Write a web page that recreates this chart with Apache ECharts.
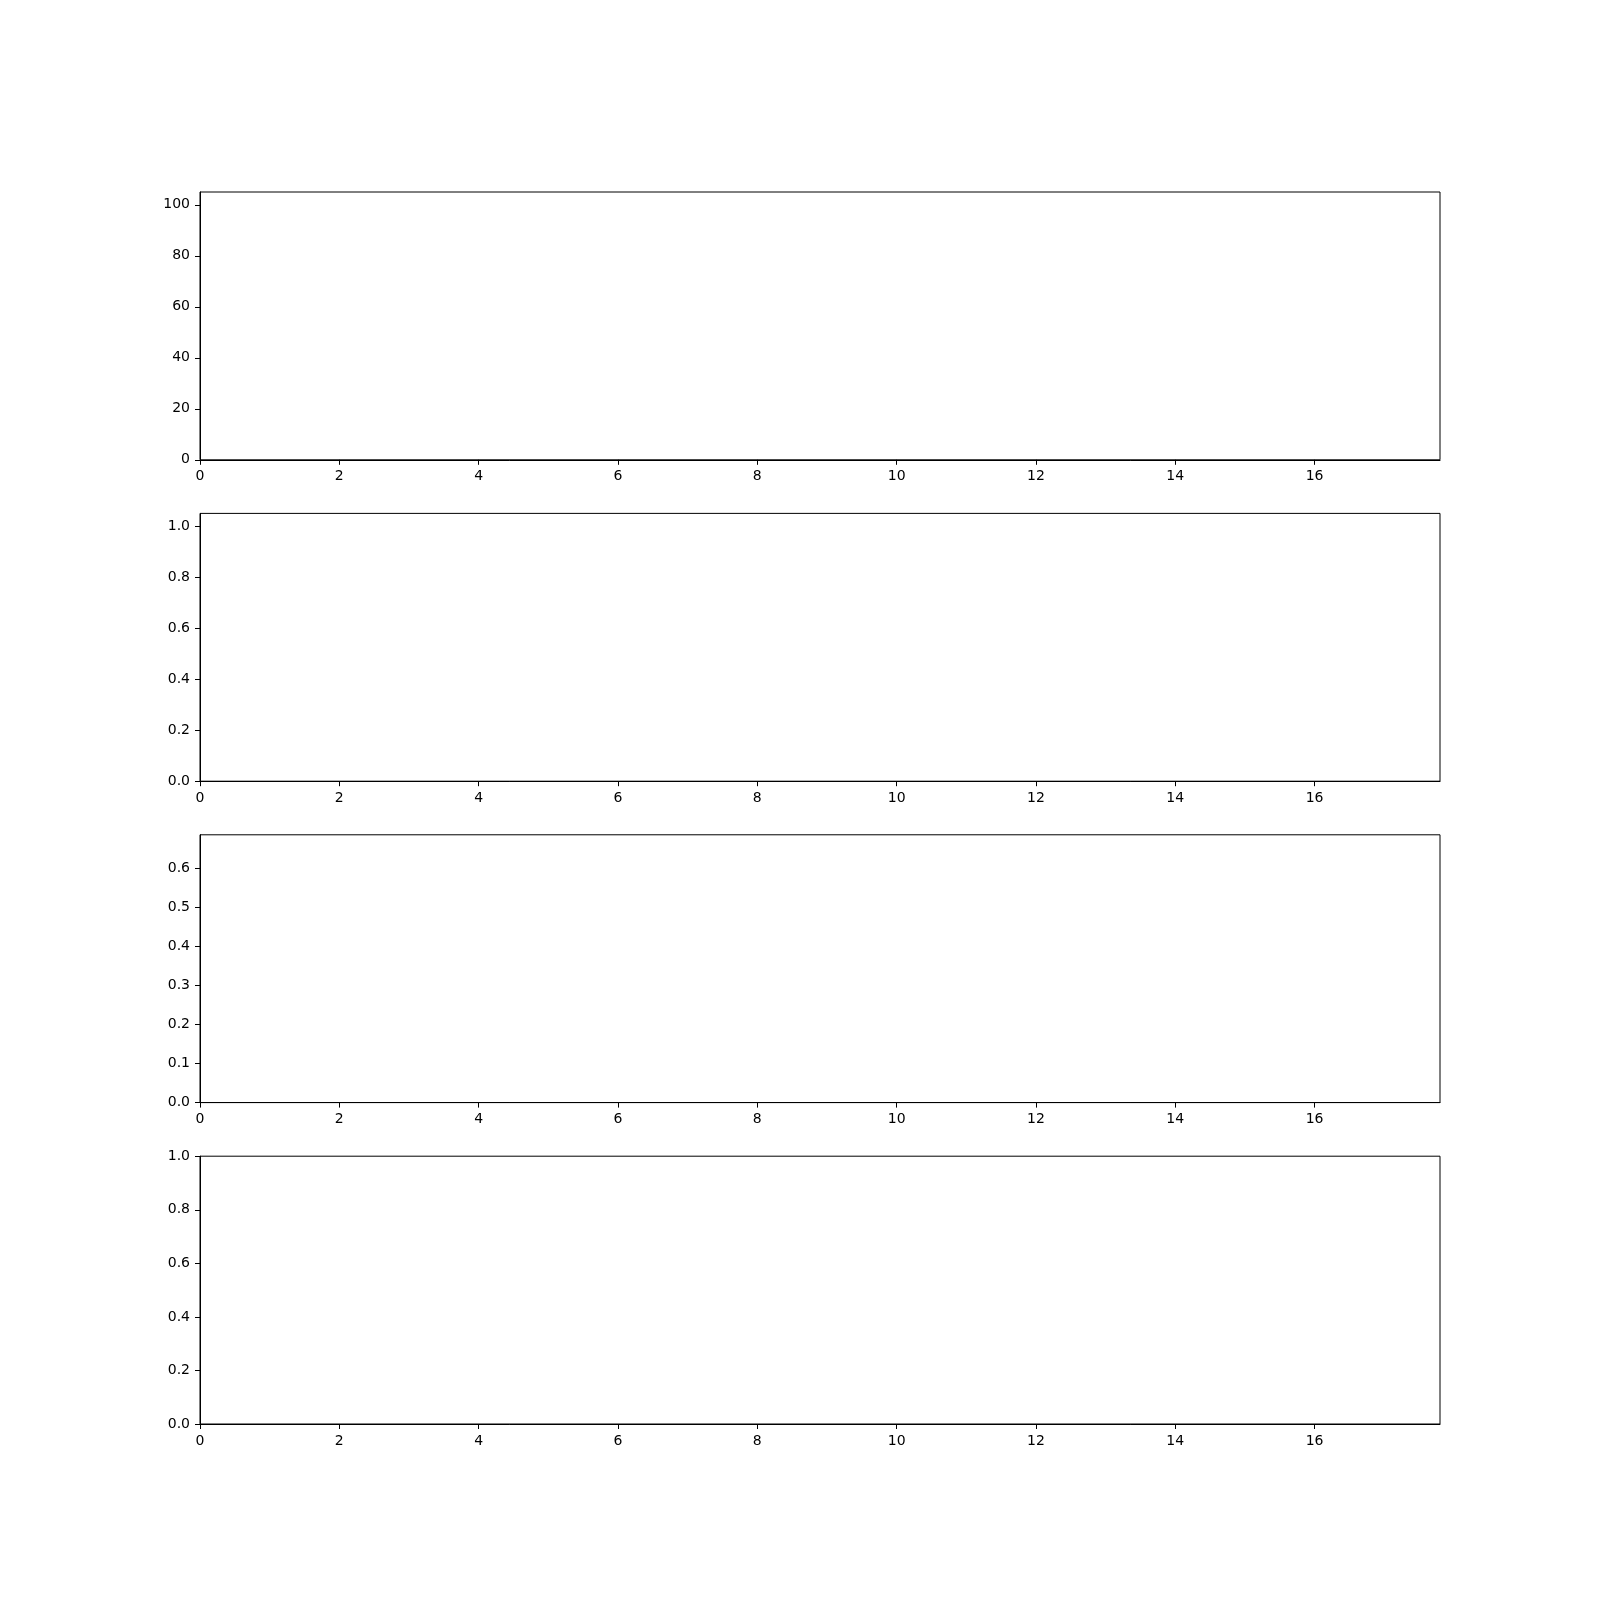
<!DOCTYPE html>
<html>
<head>
<meta charset="utf-8">
<script src="https://cdn.jsdelivr.net/npm/echarts@6/dist/echarts.min.js"></script>
<style>
html,body{margin:0;padding:0;background:#fff;}
#chart{width:1600px;height:1600px;}
</style>
</head>
<body>
<div id="chart"></div>
<script>
// Shared x axis range and ticks
const xMin = 0;
const xMax = 17.8;
const xTicks = [0, 2, 4, 6, 8, 10, 12, 14, 16];

// Per-panel y ranges and ticks
const yMaxes = [105, 1.05, 0.686, 1.0];
const yTicks1 = [0, 20, 40, 60, 80, 100];
const yTicks2 = [0, 0.2, 0.4, 0.6, 0.8, 1.0];
const yTicks3 = [0, 0.1, 0.2, 0.3, 0.4, 0.5, 0.6];
const yTicks4 = [0, 0.2, 0.4, 0.6, 0.8, 1.0];
const yDecimals = [0, 1, 1, 1];

// Panels are empty (no data plotted)
const panelData = [[], [], [], []];

const yTicksAll = [yTicks1, yTicks2, yTicks3, yTicks4];
const font = 'DejaVu Sans';
const tops = [192, 513.4, 834.8, 1156.2];
const h = 267.8;

const grids = [], xAxes = [], yAxes = [], series = [];
for (let i = 0; i < 4; i++) {
  grids.push({
    left: 200, width: 1240, top: tops[i], height: h,
    show: true, borderColor: '#000', borderWidth: 1, backgroundColor: 'transparent'
  });
  xAxes.push({
    type: 'value', gridIndex: i, min: xMin, max: xMax,
    axisLine: {show: true, onZero: false, lineStyle: {color: '#000', width: 1}},
    axisTick: {show: true, length: 5, inside: false, customValues: xTicks, lineStyle: {color: '#000', width: 1}},
    axisLabel: {show: true, customValues: xTicks, color: '#000', fontFamily: font, fontSize: 14, margin: 10,
      formatter: v => String(Math.round(v))},
    splitLine: {show: false}
  });
  const dec = yDecimals[i];
  yAxes.push({
    type: 'value', gridIndex: i, min: 0, max: yMaxes[i],
    axisLine: {show: true, onZero: false, lineStyle: {color: '#000', width: 1}},
    axisTick: {show: true, length: 5, inside: false, customValues: yTicksAll[i], lineStyle: {color: '#000', width: 1}},
    axisLabel: {show: true, customValues: yTicksAll[i], color: '#000', fontFamily: font, fontSize: 14, margin: 10,
      padding: [4, 0, 0, 0],
      formatter: v => Number(v).toFixed(dec)},
    splitLine: {show: false}
  });
  series.push({type: 'line', xAxisIndex: i, yAxisIndex: i, data: panelData[i], silent: true});
}

const chart = echarts.init(document.getElementById('chart'), null, {renderer: 'canvas'});
chart.setOption({
  animation: false,
  backgroundColor: '#fff',
  grid: grids,
  xAxis: xAxes,
  yAxis: yAxes,
  series: series
});
</script>
</body>
</html>
